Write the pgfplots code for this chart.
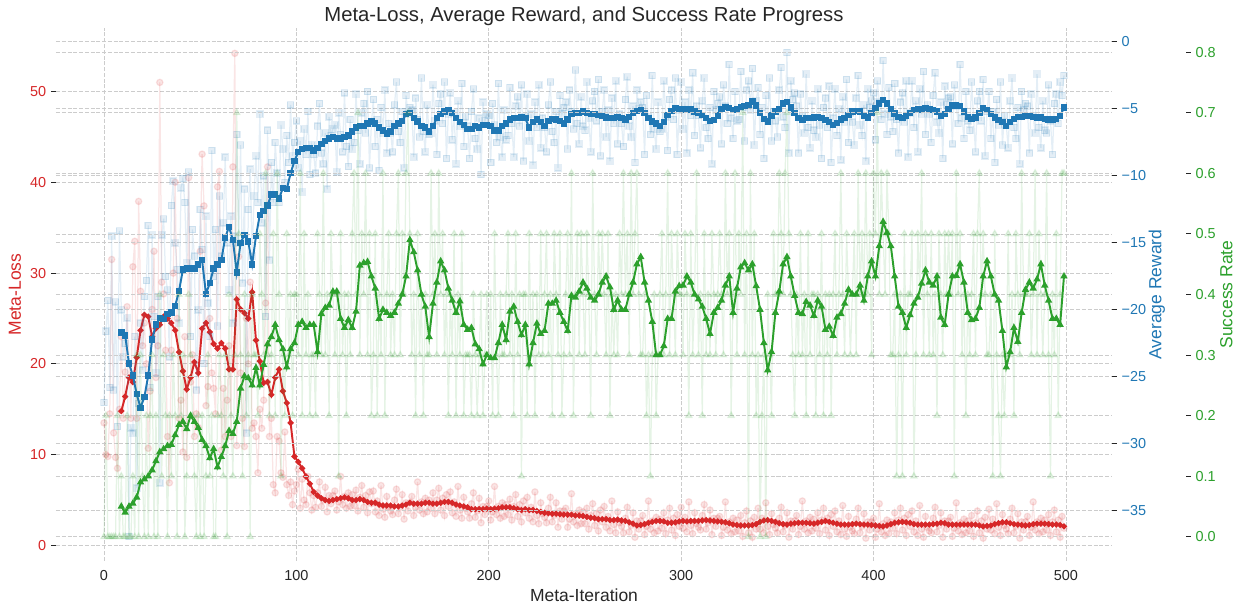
\documentclass[border=0pt]{standalone}
\usepackage{fontspec}
\setmainfont{Liberation Sans}
\usepackage{pgfplots}
\usepackage{pgfplotstable}
\pgfplotsset{compat=1.18}
\definecolor{cred}{HTML}{D62728}
\definecolor{cblue}{HTML}{1F77B4}
\definecolor{cgreen}{HTML}{2CA02C}
\definecolor{ctext}{HTML}{262626}
\definecolor{cgrid}{HTML}{CCCCCC}

% raw values per iteration: i, meta-loss, average reward, success rate
\pgfplotstableread[row sep=\\]{
i L R S\\
0 13.5 -26.9 0\\ 1 10.0 -21.6 0.2\\ 2 9.8 -19.3 0\\ 3 14.5 -25.8 0\\ 4 31.5 -14.5 0\\ 5 12.4 -26.0 0\\ 6 9.7 -19.4 0\\ 7 8.5 -28.7 0.2\\ 8 15.0 -14.1 0\\ 9 23.0 -20.0 0.1\\
10 14.0 -23.5 0\\ 11 19.1 -22.5 0\\ 12 26.3 -20.6 0.2\\ 13 20.0 -36.9 0\\ 14 14.0 -28.8 0\\ 15 30.7 -29.2 0.1\\ 16 33.5 -22.0 0\\ 17 14.0 -33.3 0.3\\ 18 37.9 -27.0 0\\ 19 28.0 -21.0 0.3\\
20 22.0 -24.5 0.1\\ 21 24.5 -19.0 0\\ 22 20.0 -17.8 0.2\\ 23 10.7 -13.7 0\\ 24 17.0 -25.8 0.2\\ 25 26.0 -14.4 0.3\\ 26 32.4 -20.5 0\\ 27 18.5 -24.7 0.2\\ 28 22.0 -19.0 0\\ 29 51.0 -32.9 0.4\\
30 29.0 -14.4 0.1\\ 31 27.7 -13.2 0.3\\ 32 21.5 -17.5 0.2\\ 33 12.0 -18.5 0\\ 34 6.9 -23.5 0.2\\ 35 21.5 -12.2 0.1\\ 36 30.0 -10.4 0.3\\ 37 40.0 -15.0 0.2\\ 38 25.0 -17.0 0\\ 39 14.0 -21.0 0.4\\
40 16.0 -10.9 0.2\\ 41 10.3 -10.2 0.3\\ 42 23.0 -12.0 0\\ 43 9.7 -16.5 0.1\\ 44 40.5 -9.7 0.4\\ 45 18.0 -22.0 0.3\\ 46 21.0 -14.0 0.2\\ 47 12.0 -16.0 0.1\\ 48 14.5 -26.0 0\\ 49 13.0 -20.0 0.2\\
50 32.4 -12.5 0\\ 51 43.1 -15.5 0.2\\ 52 37.4 -24.0 0\\ 53 15.4 -13.0 0.1\\ 54 17.5 -19.5 0.3\\ 55 25.0 -22.0 0.1\\ 56 19.0 -8.1 0.2\\ 57 17.3 -17.5 0\\ 58 14.5 -14.0 0\\ 59 39.5 -21.2 0.2\\
60 41.2 -11.5 0.3\\ 61 10.5 -16.0 0.2\\ 62 17.3 -13.5 0.1\\ 63 12.0 -8.6 0.3\\ 64 16.0 -15.0 0\\ 65 22.0 -18.5 0.4\\ 66 12.0 -13.0 0.2\\ 67 41.7 -21.0 0.1\\ 68 54.2 -14.5 0.3\\ 69 11.0 -6.9 0.7\\
70 31.8 -15.0 0.5\\ 71 19.0 -7.7 0.3\\ 72 14.0 -18.0 0.1\\ 73 10.9 -11.0 0.4\\ 74 25.0 -29.2 0.2\\ 75 20.0 -12.5 0.3\\ 76 29.0 -9.5 0\\ 77 12.9 -16.0 0.4\\ 78 13.5 -11.5 0.3\\ 79 12.0 -8.5 0.3\\
80 8.0 -12.0 0.2\\ 81 15.0 -5.4 0.5\\ 82 12.9 -13.5 0.4\\ 83 16.0 -10.0 0.3\\ 84 26.7 -20.5 0.6\\ 85 41.7 -6.6 0.3\\ 86 12.0 -16.3 0.2\\ 87 14.0 -9.0 0.3\\ 88 6.7 -12.0 0.5\\ 89 5.8 -7.5 0.2\\
90 12.0 -9.8 0.6\\ 91 11.5 -12.0 0.4\\ 92 8.0 -6.2 0.1\\ 93 7.5 -8.0 0.3\\ 94 12.5 -10.5 0.2\\ 95 6.7 -7.0 0.5\\ 96 5.5 -9.0 0.3\\ 97 7.0 -4.7 0.4\\ 98 4.5 -8.5 0.2\\ 99 6.0 -7.5 0.4\\
100 6.7 -5.9 0.4\\ 101 8.4 -9.4 0.3\\ 102 4.1 -7.4 0.6\\ 103 7.3 -11.2 0.2\\ 104 5.0 -6.5 0.5\\ 105 4.5 -8.4 0.3\\ 106 7.6 -5.2 0.4\\ 107 5.8 -9.9 0.2\\ 108 3.9 -7.7 0.3\\ 109 5.5 -8.4 0.3\\
110 4.2 -9.8 0.2\\ 111 5.8 -6.3 0.5\\ 112 7.0 -4.6 0.4\\ 113 4.3 -8.3 0.3\\ 114 5.0 -9.1 0.6\\ 115 6.4 -6.8 0.3\\ 116 3.7 -11.0 0.4\\ 117 5.5 -5.6 0.2\\ 118 4.6 -7.0 0.5\\ 119 5.5 -6.5 0.4\\
120 6.0 -6.2 0.3\\ 121 3.9 -9.7 0.4\\ 122 4.8 -5.3 0.1\\ 123 7.6 -6.9 0.5\\ 124 4.5 -8.2 0.3\\ 125 5.4 -3.8 0.4\\ 126 4.1 -7.8 0.2\\ 127 5.8 -9.3 0.4\\ 128 4.3 -5.8 0.3\\ 129 5.6 -8.0 0.5\\
130 4.4 -7.5 0.6\\ 131 6.1 -3.9 0.4\\ 132 3.8 -6.6 0.7\\ 133 5.3 -9.1 0.3\\ 134 6.6 -5.3 0.5\\ 135 4.2 -4.6 0.4\\ 136 5.5 -6.8 0.6\\ 137 3.6 -3.7 0.3\\ 138 5.9 -9.4 0.5\\ 139 4.6 -6.1 0.2\\
140 6.0 -4.3 0.3\\ 141 3.7 -7.8 0.5\\ 142 4.9 -5.8 0.2\\ 143 3.3 -9.6 0.4\\ 144 6.6 -4.9 0.3\\ 145 4.0 -6.8 0.6\\ 146 3.1 -3.6 0.2\\ 147 5.4 -8.3 0.4\\ 148 4.2 -6.1 0.5\\ 149 3.8 -6.8 0.3\\
150 3.4 -8.2 0.4\\ 151 5.0 -4.7 0.3\\ 152 6.2 -3.0 0.5\\ 153 3.5 -6.7 0.6\\ 154 4.2 -7.5 0.3\\ 155 5.6 -5.2 0.5\\ 156 2.9 -9.4 0.4\\ 157 4.7 -4.0 0.6\\ 158 3.8 -5.4 0.7\\ 159 4.7 -4.9 0.5\\
160 5.4 -5.1 0.3\\ 161 3.3 -8.6 0.4\\ 162 4.2 -4.2 0.2\\ 163 7.0 -5.8 0.5\\ 164 3.9 -7.1 0.3\\ 165 4.8 -2.7 0.4\\ 166 3.5 -6.7 0.2\\ 167 5.2 -8.2 0.4\\ 168 3.7 -4.7 0.3\\ 169 5.0 -6.9 0.3\\
170 4.1 -6.8 0.6\\ 171 5.8 -3.2 0.4\\ 172 3.5 -5.9 0.5\\ 173 5.0 -8.4 0.3\\ 174 6.3 -4.6 0.6\\ 175 3.9 -3.9 0.4\\ 176 5.2 -6.1 0.5\\ 177 3.3 -3.0 0.3\\ 178 5.6 -8.7 0.4\\ 179 4.3 -5.4 0.2\\
180 5.9 -3.8 0.4\\ 181 3.6 -7.3 0.3\\ 182 4.8 -5.3 0.5\\ 183 3.2 -9.1 0.2\\ 184 6.5 -4.4 0.4\\ 185 3.9 -6.3 0.3\\ 186 3.0 -3.1 0.5\\ 187 5.3 -7.8 0.2\\ 188 4.1 -5.6 0.3\\ 189 3.7 -6.3 0.3\\
190 3.0 -8.7 0.3\\ 191 4.6 -5.2 0.2\\ 192 5.8 -3.5 0.4\\ 193 3.1 -7.2 0.3\\ 194 3.8 -8.0 0.2\\ 195 5.2 -5.7 0.3\\ 196 2.5 -9.9 0.4\\ 197 4.3 -4.5 0.2\\ 198 3.4 -5.9 0.3\\ 199 4.3 -5.4 0.4\\
200 4.9 -5.5 0.3\\ 201 2.8 -9.0 0.4\\ 202 3.7 -4.6 0.2\\ 203 6.5 -6.2 0.5\\ 204 3.4 -7.5 0.3\\ 205 4.3 -3.1 0.2\\ 206 3.0 -7.1 0.4\\ 207 4.7 -8.6 0.3\\ 208 3.2 -5.1 0.3\\ 209 4.5 -7.3 0.4\\
210 3.4 -7.0 0.5\\ 211 5.1 -3.4 0.3\\ 212 2.8 -6.1 0.4\\ 213 4.3 -8.6 0.2\\ 214 5.6 -4.8 0.5\\ 215 3.2 -4.1 0.3\\ 216 4.5 -6.3 0.4\\ 217 2.6 -3.2 0.1\\ 218 4.9 -8.9 0.4\\ 219 3.6 -5.6 0.4\\
220 5.3 -3.9 0.2\\ 221 3.0 -7.4 0.5\\ 222 4.2 -5.4 0.3\\ 223 2.6 -9.2 0.4\\ 224 5.9 -4.5 0.2\\ 225 3.3 -6.4 0.4\\ 226 2.4 -3.2 0.3\\ 227 4.7 -7.9 0.5\\ 228 3.5 -5.7 0.3\\ 229 3.1 -6.4 0.4\\
230 2.5 -8.2 0.5\\ 231 4.1 -4.7 0.3\\ 232 5.3 -3.0 0.4\\ 233 2.6 -6.7 0.2\\ 234 3.3 -7.5 0.5\\ 235 4.7 -5.2 0.4\\ 236 2.0 -9.4 0.3\\ 237 3.8 -4.0 0.5\\ 238 2.9 -5.4 0.2\\ 239 3.8 -4.9 0.3\\
240 4.1 -4.5 0.4\\ 241 2.0 -8.0 0.5\\ 242 2.9 -3.6 0.3\\ 243 5.7 -5.2 0.6\\ 244 2.6 -6.5 0.2\\ 245 3.5 -2.1 0.4\\ 246 2.2 -6.1 0.5\\ 247 3.9 -7.6 0.3\\ 248 2.4 -4.1 0.5\\ 249 3.7 -6.3 0.4\\
250 2.4 -6.6 0.3\\ 251 4.1 -3.0 0.5\\ 252 1.8 -5.7 0.4\\ 253 3.3 -8.2 0.2\\ 254 4.6 -4.4 0.6\\ 255 2.2 -3.7 0.4\\ 256 3.5 -5.9 0.3\\ 257 1.6 -2.8 0.5\\ 258 3.9 -8.5 0.4\\ 259 2.6 -5.2 0.5\\
260 4.3 -3.6 0.4\\ 261 2.0 -7.1 0.3\\ 262 3.2 -5.1 0.5\\ 263 1.6 -8.9 0.2\\ 264 4.9 -4.2 0.4\\ 265 2.3 -6.1 0.3\\ 266 1.4 -2.9 0.4\\ 267 3.7 -7.6 0.3\\ 268 2.5 -5.4 0.5\\ 269 2.1 -6.1 0.4\\
270 1.4 -7.8 0.6\\ 271 3.0 -4.3 0.4\\ 272 4.2 -2.6 0.5\\ 273 1.5 -6.3 0.3\\ 274 2.2 -7.1 0.6\\ 275 3.6 -4.8 0.4\\ 276 0.9 -9.0 0.5\\ 277 2.7 -3.6 0.6\\ 278 1.8 -5.0 0.4\\ 279 2.7 -4.5 0.3\\
280 3.3 -4.9 0.3\\ 281 1.2 -8.4 0.4\\ 282 2.1 -4.0 0.2\\ 283 4.9 -5.6 0.3\\ 284 1.8 -6.9 0.1\\ 285 2.7 -2.5 0.3\\ 286 1.4 -6.5 0.4\\ 287 3.1 -8.0 0.2\\ 288 1.6 -4.5 0.3\\ 289 2.9 -6.7 0.4\\
290 1.9 -6.5 0.5\\ 291 3.6 -2.9 0.3\\ 292 1.3 -5.6 0.4\\ 293 2.8 -8.1 0.6\\ 294 4.1 -4.3 0.3\\ 295 1.7 -3.6 0.5\\ 296 3.0 -5.8 0.4\\ 297 1.1 -2.7 0.3\\ 298 3.4 -8.4 0.5\\ 299 2.1 -5.1 0.4\\
300 4.2 -3.0 0.4\\ 301 1.9 -6.5 0.3\\ 302 3.1 -4.5 0.5\\ 303 1.5 -8.3 0.4\\ 304 4.8 -3.6 0.2\\ 305 2.2 -5.5 0.5\\ 306 1.3 -2.3 0.3\\ 307 3.6 -7.0 0.4\\ 308 2.4 -4.8 0.6\\ 309 2.0 -5.5 0.3\\
310 1.7 -7.9 0.4\\ 311 3.3 -4.4 0.2\\ 312 4.5 -2.7 0.5\\ 313 1.8 -6.4 0.3\\ 314 2.5 -7.2 0.4\\ 315 3.9 -4.9 0.3\\ 316 1.2 -9.1 0.5\\ 317 3.0 -3.7 0.4\\ 318 2.1 -5.1 0.3\\ 319 3.0 -4.6 0.4\\
320 3.2 -4.1 0.5\\ 321 1.1 -7.6 0.4\\ 322 2.0 -3.2 0.3\\ 323 4.8 -4.8 0.6\\ 324 1.7 -6.1 0.4\\ 325 2.6 -1.7 0.5\\ 326 1.3 -5.7 0.2\\ 327 3.0 -7.2 0.4\\ 328 1.5 -3.7 0.6\\ 329 2.8 -5.9 0.3\\
330 1.6 -5.8 0.5\\ 331 3.3 -2.2 0.4\\ 332 1.0 -4.9 0.7\\ 333 2.5 -7.4 0.3\\ 334 3.8 -3.6 0.5\\ 335 1.4 -2.9 0\\ 336 2.7 -5.1 0.6\\ 337 0.9 -2.0 0.3\\ 338 3.1 -7.7 0.5\\ 339 1.8 -4.4 0.2\\
340 4.1 -3.4 0.3\\ 341 1.8 -6.9 0\\ 342 3.0 -4.9 0.2\\ 343 1.4 -8.7 0.3\\ 344 4.7 -4.0 0\\ 345 2.1 -5.9 0.4\\ 346 1.2 -2.7 0.3\\ 347 3.5 -7.4 0.2\\ 348 2.3 -5.2 0.5\\ 349 1.9 -5.9 0.4\\
350 1.4 -7.1 0.4\\ 351 3.0 -3.6 0.6\\ 352 4.2 -1.9 0.5\\ 353 1.5 -5.6 0.4\\ 354 2.2 -6.4 0.6\\ 355 3.6 -0.8 0.7\\ 356 0.9 -8.3 0.5\\ 357 2.7 -2.9 0.4\\ 358 1.8 -4.3 0.3\\ 359 2.7 -3.8 0.2\\
360 3.3 -4.8 0.4\\ 361 1.2 -8.3 0.3\\ 362 2.1 -3.9 0.5\\ 363 4.9 -5.5 0.3\\ 364 1.8 -6.8 0.4\\ 365 2.7 -2.4 0.2\\ 366 1.4 -6.4 0.5\\ 367 3.1 -7.9 0.3\\ 368 1.6 -4.4 0.4\\ 369 2.9 -6.6 0.4\\
370 1.9 -7.1 0.2\\ 371 3.6 -3.5 0.4\\ 372 1.3 -6.2 0.3\\ 373 2.8 -8.7 0.5\\ 374 4.1 -4.9 0.2\\ 375 1.7 -4.2 0.4\\ 376 3.0 -6.4 0.3\\ 377 1.1 -3.3 0.4\\ 378 3.4 -9.0 0.2\\ 379 2.1 -5.7 0.4\\
380 3.8 -3.5 0.5\\ 381 1.5 -7.0 0.3\\ 382 2.7 -5.0 0.4\\ 383 1.2 -8.8 0.6\\ 384 4.4 -4.1 0.4\\ 385 1.8 -6.0 0.3\\ 386 1.0 -2.8 0.5\\ 387 3.2 -7.5 0.4\\ 388 2.0 -5.3 0.3\\ 389 1.6 -6.0 0.4\\
390 1.3 -7.7 0.5\\ 391 2.9 -4.2 0.3\\ 392 4.1 -2.5 0.6\\ 393 1.4 -6.2 0.4\\ 394 2.1 -7.0 0.5\\ 395 3.5 -4.7 0.4\\ 396 0.8 -8.9 0.6\\ 397 2.6 -3.5 0.4\\ 398 1.7 -4.9 0.5\\ 399 2.6 -4.4 0.3\\
400 3.0 -3.8 0.6\\ 401 0.9 -7.3 0.5\\ 402 1.8 -2.9 0.7\\ 403 4.6 -4.5 0.4\\ 404 1.5 -5.8 0.6\\ 405 2.4 -1.4 0.5\\ 406 1.1 -5.4 0.4\\ 407 2.8 -6.9 0.6\\ 408 1.3 -3.4 0.5\\ 409 2.6 -5.6 0.3\\
410 1.9 -6.7 0.3\\ 411 3.6 -3.1 0.4\\ 412 1.3 -5.8 0.1\\ 413 2.8 -8.3 0.3\\ 414 4.1 -4.5 0.4\\ 415 1.7 -3.8 0.1\\ 416 3.0 -6.0 0.5\\ 417 1.1 -2.9 0.3\\ 418 3.4 -8.6 0.4\\ 419 2.1 -5.3 0.4\\
420 3.8 -2.9 0.5\\ 421 1.5 -6.4 0.1\\ 422 2.7 -4.4 0.3\\ 423 1.1 -8.2 0.5\\ 424 4.4 -3.5 0.4\\ 425 1.8 -5.4 0.6\\ 426 0.9 -2.2 0.3\\ 427 3.2 -6.9 0.5\\ 428 2.0 -4.7 0.4\\ 429 1.6 -5.4 0.3\\
430 1.4 -7.5 0.5\\ 431 3.0 -4.0 0.3\\ 432 4.2 -2.3 0.4\\ 433 1.5 -6.0 0.2\\ 434 2.2 -6.8 0.5\\ 435 3.6 -4.5 0.4\\ 436 0.9 -8.7 0.3\\ 437 2.7 -3.3 0.5\\ 438 1.8 -4.7 0.4\\ 439 2.7 -4.2 0.5\\
440 3.1 -4.1 0.4\\ 441 1.0 -7.6 0.5\\ 442 1.9 -3.2 0.1\\ 443 4.7 -4.8 0.6\\ 444 1.6 -6.1 0.4\\ 445 2.5 -1.7 0.5\\ 446 1.2 -5.7 0.3\\ 447 2.9 -7.2 0.4\\ 448 1.4 -3.7 0.2\\ 449 2.7 -5.9 0.4\\
450 1.6 -6.6 0.3\\ 451 3.3 -3.0 0.4\\ 452 1.0 -5.7 0.5\\ 453 2.5 -8.2 0.3\\ 454 3.8 -4.4 0.5\\ 455 1.4 -3.7 0.6\\ 456 2.7 -5.9 0.4\\ 457 0.8 -2.8 0.5\\ 458 3.1 -8.5 0.4\\ 459 1.8 -5.2 0.3\\
460 4.0 -3.7 0.3\\ 461 1.7 -7.2 0.4\\ 462 2.9 -5.2 0.1\\ 463 1.3 -9.0 0.5\\ 464 4.6 -4.3 0.3\\ 465 2.0 -6.2 0.2\\ 466 1.1 -3.0 0.1\\ 467 3.4 -7.7 0.3\\ 468 2.2 -5.5 0.2\\ 469 1.8 -6.2 0.3\\
470 1.3 -7.9 0.5\\ 471 2.9 -4.4 0.3\\ 472 4.1 -2.7 0.4\\ 473 1.4 -6.4 0.2\\ 474 2.1 -7.2 0.5\\ 475 3.5 -4.9 0.4\\ 476 0.8 -9.1 0.3\\ 477 2.6 -3.7 0.6\\ 478 1.7 -5.1 0.4\\ 479 2.6 -4.6 0.4\\
480 3.2 -4.8 0.4\\ 481 1.1 -8.3 0.5\\ 482 2.0 -3.9 0.3\\ 483 4.8 -5.5 0.4\\ 484 1.7 -6.8 0.6\\ 485 2.6 -2.4 0.3\\ 486 1.3 -6.4 0.5\\ 487 3.0 -7.9 0.4\\ 488 1.5 -4.4 0.3\\ 489 2.8 -6.6 0.4\\
490 1.7 -6.8 0.6\\ 491 3.4 -3.2 0.3\\ 492 1.1 -5.9 0.1\\ 493 2.6 -8.4 0.4\\ 494 3.9 -4.6 0.3\\ 495 1.5 -3.9 0.5\\ 496 2.8 -6.1 0.2\\ 497 0.9 -3.0 0.4\\ 498 3.2 -4.0 0.6\\ 499 1.9 -2.5 0.6\\
}\rawdata

% moving averages (window 10)
\pgfplotstableread[row sep=\\]{
i L R S\\
9 14.8 -21.7 0.05\\ 11 16.4 -21.9 0.04\\ 13 18.5 -24.0 0.05\\ 15 18.0 -24.9 0.055\\ 17 20.7 -26.3 0.065\\ 19 23.7 -27.3 0.09\\ 21 25.4 -26.5 0.095\\ 23 25.2 -24.9 0.10\\ 25 23.0 -22.2 0.11\\ 27 23.9 -21.1 0.125\\
29 24.3 -20.6 0.14\\ 31 25.2 -20.7 0.145\\ 33 25.0 -20.3 0.15\\ 35 24.5 -20.2 0.152\\ 37 23.7 -19.7 0.168\\ 39 21.3 -18.6 0.185\\ 41 19.2 -17.0 0.19\\ 43 17.2 -16.9 0.178\\ 45 18.5 -16.9 0.20\\ 47 20.2 -16.9 0.19\\
49 19.0 -16.6 0.18\\ 51 23.9 -16.3 0.16\\ 53 24.5 -18.8 0.15\\ 55 23.5 -18.0 0.13\\ 57 22.2 -16.9 0.145\\ 59 21.7 -16.6 0.115\\ 61 22.3 -16.3 0.132\\ 63 21.7 -14.6 0.15\\ 65 19.4 -13.8 0.175\\ 67 19.4 -14.8 0.17\\
69 27.1 -17.2 0.19\\ 71 26.0 -15.0 0.245\\ 73 25.6 -14.4 0.265\\ 75 25.0 -14.9 0.262\\ 77 27.9 -16.6 0.25\\ 79 22.6 -14.5 0.279\\ 81 20.3 -12.9 0.25\\ 83 17.9 -12.6 0.284\\ 85 18.0 -12.2 0.318\\ 87 16.6 -11.4 0.33\\
89 18.5 -11.4 0.35\\ 91 19.4 -11.7 0.325\\ 93 17.0 -10.9 0.31\\ 95 15.7 -11.0 0.28\\ 97 13.5 -9.8 0.31\\ 99 9.8 -8.9 0.32\\ 101 9.2 -8.2 0.35\\ 103 8.5 -8.0 0.355\\ 105 7.6 -7.9 0.345\\ 107 6.8 -7.9 0.35\\
109 5.9 -8.1 0.35\\ 111 5.5 -7.9 0.305\\ 113 5.2 -7.6 0.368\\ 115 5.0 -7.4 0.378\\ 117 4.9 -7.2 0.382\\ 119 5.0 -7.1 0.405\\ 121 5.1 -7.2 0.405\\ 123 5.2 -7.2 0.36\\ 125 5.3 -7.1 0.345\\ 127 5.2 -7.0 0.358\\
129 5.0 -6.7 0.345\\ 131 5.0 -6.4 0.372\\ 133 5.1 -6.3 0.448\\ 135 5.0 -6.3 0.452\\ 137 4.8 -6.1 0.454\\ 139 4.7 -5.95 0.43\\ 141 4.7 -6.1 0.41\\ 143 4.5 -6.4 0.36\\ 145 4.4 -6.6 0.375\\ 147 4.4 -6.85 0.37\\
149 4.4 -6.7 0.365\\ 151 4.3 -6.3 0.37\\ 153 4.3 -6.1 0.385\\ 155 4.4 -5.9 0.40\\ 157 4.5 -5.4 0.43\\ 159 4.7 -5.3 0.49\\ 161 4.6 -5.7 0.47\\ 163 4.6 -5.95 0.44\\ 165 4.6 -6.3 0.40\\ 167 4.7 -6.4 0.38\\
169 4.7 -6.7 0.33\\ 171 4.6 -6.3 0.385\\ 173 4.6 -5.7 0.42\\ 175 4.7 -5.4 0.455\\ 177 4.8 -5.2 0.44\\ 179 4.8 -5.1 0.41\\ 181 4.7 -5.3 0.39\\ 183 4.5 -5.7 0.37\\ 185 4.4 -6.0 0.389\\ 187 4.3 -6.2 0.35\\
189 4.2 -6.5 0.342\\ 191 4.0 -6.5 0.345\\ 193 4.0 -6.3 0.318\\ 195 4.0 -6.4 0.31\\ 197 4.0 -6.2 0.285\\ 199 4.05 -6.2 0.30\\ 201 4.0 -6.3 0.295\\ 203 4.05 -6.6 0.295\\ 205 4.1 -6.6 0.32\\ 207 4.2 -6.3 0.35\\
209 4.2 -6.1 0.325\\ 211 4.2 -5.8 0.372\\ 213 4.1 -5.7 0.38\\ 215 4.0 -5.7 0.355\\ 217 3.9 -5.65 0.333\\ 219 4.0 -5.7 0.35\\ 221 3.9 -6.4 0.285\\ 223 3.9 -6.0 0.32\\ 225 3.8 -5.8 0.352\\ 227 3.7 -6.0 0.335\\
229 3.6 -6.3 0.34\\ 231 3.55 -5.9 0.385\\ 233 3.5 -5.75 0.385\\ 235 3.5 -5.8 0.39\\ 237 3.45 -5.9 0.37\\ 239 3.4 -6.1 0.355\\ 241 3.4 -5.8 0.34\\ 243 3.4 -5.4 0.398\\ 245 3.3 -5.3 0.395\\ 247 3.3 -5.3 0.405\\
249 3.25 -5.2 0.42\\ 251 3.15 -5.3 0.41\\ 253 3.05 -5.4 0.395\\ 255 3.0 -5.4 0.39\\ 257 2.9 -5.45 0.40\\ 259 2.9 -5.55 0.42\\ 261 2.9 -5.65 0.43\\ 263 2.8 -5.7 0.412\\ 265 2.8 -5.7 0.375\\ 267 2.85 -5.6 0.39\\
269 2.75 -5.7 0.375\\ 271 2.7 -5.8 0.375\\ 273 2.55 -5.6 0.40\\ 275 2.4 -5.3 0.42\\ 277 2.2 -5.15 0.45\\ 279 2.25 -5.1 0.462\\ 281 2.35 -5.3 0.42\\ 283 2.5 -5.7 0.39\\ 285 2.6 -5.95 0.355\\ 287 2.7 -6.1 0.30\\
289 2.7 -6.3 0.30\\ 291 2.65 -6.0 0.315\\ 293 2.5 -5.45 0.36\\ 295 2.5 -5.15 0.36\\ 297 2.55 -4.95 0.405\\ 299 2.65 -5.0 0.414\\ 301 2.7 -5.05 0.415\\ 303 2.65 -5.0 0.43\\ 305 2.7 -5.05 0.42\\ 307 2.7 -5.2 0.40\\
309 2.7 -5.3 0.392\\ 311 2.75 -5.45 0.38\\ 313 2.8 -5.7 0.36\\ 315 2.75 -5.9 0.335\\ 317 2.7 -5.85 0.37\\ 319 2.65 -5.5 0.378\\ 321 2.6 -5.0 0.39\\ 323 2.55 -4.85 0.415\\ 325 2.45 -4.95 0.43\\ 327 2.3 -5.1 0.37\\
329 2.25 -5.0 0.41\\ 331 2.2 -4.85 0.445\\ 333 2.2 -4.8 0.452\\ 335 2.2 -4.7 0.44\\ 337 2.25 -4.45 0.45\\ 339 2.35 -4.75 0.414\\ 341 2.6 -5.3 0.375\\ 343 2.75 -5.75 0.32\\ 345 2.8 -5.95 0.275\\ 347 2.7 -5.5 0.305\\
349 2.6 -5.2 0.37\\ 351 2.45 -5.0 0.405\\ 353 2.35 -4.6 0.45\\ 355 2.3 -4.5 0.462\\ 357 2.4 -4.9 0.43\\ 359 2.45 -5.3 0.398\\ 361 2.5 -5.7 0.37\\ 363 2.5 -5.85 0.368\\ 365 2.5 -5.7 0.388\\ 367 2.45 -5.7 0.382\\
369 2.4 -5.65 0.365\\ 371 2.5 -5.6 0.39\\ 373 2.6 -5.7 0.38\\ 375 2.7 -5.85 0.342\\ 377 2.6 -6.0 0.347\\ 379 2.5 -6.2 0.332\\ 381 2.4 -6.05 0.362\\ 383 2.3 -5.8 0.368\\ 385 2.3 -5.7 0.385\\ 387 2.3 -5.45 0.408\\
389 2.35 -5.2 0.40\\ 391 2.4 -5.15 0.40\\ 393 2.35 -5.2 0.415\\ 395 2.3 -5.5 0.39\\ 397 2.3 -5.65 0.43\\ 399 2.25 -5.3 0.455\\ 401 2.2 -4.95 0.43\\ 403 2.15 -4.6 0.48\\ 405 2.1 -4.35 0.52\\ 407 2.2 -4.6 0.502\\
409 2.35 -5.0 0.48\\ 411 2.5 -5.35 0.43\\ 413 2.55 -5.6 0.38\\ 415 2.6 -5.7 0.37\\ 417 2.55 -5.55 0.345\\ 419 2.5 -5.3 0.366\\ 421 2.35 -5.1 0.385\\ 423 2.3 -5.05 0.395\\ 425 2.3 -5.0 0.418\\ 427 2.3 -4.95 0.44\\
429 2.3 -5.0 0.42\\ 431 2.35 -5.1 0.415\\ 433 2.4 -5.2 0.43\\ 435 2.5 -5.55 0.362\\ 437 2.45 -5.4 0.35\\ 439 2.3 -5.0 0.40\\ 441 2.3 -4.75 0.43\\ 443 2.3 -4.75 0.431\\ 445 2.3 -4.8 0.45\\ 447 2.3 -5.2 0.42\\
449 2.3 -5.6 0.37\\ 451 2.3 -5.75 0.358\\ 453 2.3 -5.65 0.36\\ 455 2.2 -5.3 0.378\\ 457 2.1 -4.95 0.43\\ 459 2.15 -5.1 0.455\\ 461 2.2 -5.4 0.43\\ 463 2.35 -5.65 0.40\\ 465 2.45 -5.85 0.39\\ 467 2.55 -6.0 0.34\\
469 2.55 -6.3 0.28\\ 471 2.45 -6.0 0.305\\ 473 2.35 -5.75 0.345\\ 475 2.3 -5.6 0.322\\ 477 2.25 -5.6 0.37\\ 479 2.2 -5.55 0.408\\ 481 2.25 -5.55 0.42\\ 483 2.35 -5.6 0.41\\ 485 2.4 -5.65 0.425\\ 487 2.4 -5.65 0.45\\
489 2.4 -5.75 0.415\\ 491 2.35 -5.8 0.39\\ 493 2.3 -5.8 0.36\\ 495 2.3 -5.75 0.36\\ 497 2.25 -5.55 0.35\\ 499 2.1 -4.9 0.43\\
}\smoothdata

\pgfplotsset{
  base/.style={
    scale only axis, width=760.3pt, height=383.8pt,
    xmin=-24.95, xmax=523.95,
    axis line style={draw=none},
    grid style={draw=cgrid, dash pattern=on 2.9pt off 1.25pt, line width=0.55pt},
    major tick length=3.5pt,
    tick align=outside,
    tick style={draw=ctext, line width=0.6pt},
    tick label style={font=\fontsize{10.4}{12}\selectfont},
    /pgf/number format/assume math mode=true,
  },
  rawstyle/.style={line width=0.9pt, opacity=0.12, mark size=2.3pt},
}

\begin{document}
\begin{tikzpicture}
% ---------- Meta-Loss (left axis) ----------
\begin{axis}[base,
  ymin=-1.71, ymax=57.0,
  xtick={0,100,200,300,400,500},
  ytick={0,10,20,30,40,50},
  xmajorgrids, ymajorgrids,
  xtick pos=left, ytick pos=left,
  x tick style={draw=none},
  x tick label style={text=ctext},
  y tick label style={text=cred},
  title={Meta-Loss, Average Reward, and Success Rate Progress},
  every axis title/.style={at={(axis description cs:0.5,1)}, anchor=base, yshift=4.5pt,
     font=\fontsize{14.6}{17}\selectfont, text=ctext},
  xlabel={Meta-Iteration},
  every axis x label/.style={at={(axis description cs:0.5,0)}, anchor=base, yshift=-29.2pt,
     font=\fontsize{12.6}{15}\selectfont, text=ctext},
  ylabel={Meta-Loss},
  every axis y label/.style={at={(axis description cs:-0.0388,0.5)}, rotate=90, anchor=center,
     font=\fontsize{12.6}{15}\selectfont, text=cred},
]
\addplot[cred, rawstyle, mark=*, mark options={fill=cred}] table[x=i, y=L] \rawdata;
\addplot[cred, line width=1.4pt, mark=*, mark size=1.4pt, mark options={fill=cred}] table[x=i, y=L] \smoothdata;
\end{axis}

% ---------- Average Reward (right axis) ----------
\begin{axis}[base,
  ymin=-38.74, ymax=1.04,
  hide x axis,
  ytick={-35,-30,-25,-20,-15,-10,-5,0},
  yticklabels={−35,−30,−25,−20,−15,−10,−5,0},
  ymajorgrids, ytick pos=right,
  y tick label style={text=cblue},
  ylabel={Average Reward},
  every axis y label/.style={at={(axis description cs:1.0426,0.5)}, rotate=90, anchor=center,
     font=\fontsize{12.6}{15}\selectfont, text=cblue},
]
\addplot[cblue, rawstyle, mark=square*, mark options={fill=cblue}] table[x=i, y=R] \rawdata;
\addplot[cblue, line width=1.4pt, mark=square*, mark size=1.6pt, mark options={fill=cblue}] table[x=i, y=R] \smoothdata;
\end{axis}

% ---------- Success Rate (data + grid) ----------
\begin{axis}[base,
  ymin=-0.04, ymax=0.84,
  hide x axis,
  ytick={0,0.1,0.2,0.3,0.4,0.5,0.6,0.7,0.8},
  yticklabels={},
  ymajorgrids, ytick pos=right,
  y tick style={draw=none},
  ylabel={Success Rate},
  every axis y label/.style={at={(axis description cs:1.1082,0.5)}, rotate=90, anchor=center,
     font=\fontsize{12.6}{15}\selectfont, text=cgreen},
]
\addplot[cgreen, rawstyle, mark=triangle*, mark size=2.6pt, mark options={fill=cgreen}] table[x=i, y=S] \rawdata;
\addplot[cgreen, line width=1.4pt, mark=triangle*, mark size=1.7pt, mark options={fill=cgreen}] table[x=i, y=S] \smoothdata;
\end{axis}

% ---------- Success Rate (offset spine: ticks and labels) ----------
\begin{axis}[base, xshift=53.22pt,
  ymin=-0.04, ymax=0.84,
  hide x axis,
  ytick={0,0.1,0.2,0.3,0.4,0.5,0.6,0.7,0.8},
  yticklabels={0.0,0.1,0.2,0.3,0.4,0.5,0.6,0.7,0.8},
  ytick pos=right,
  y tick label style={text=cgreen},
]
\end{axis}

\pgfresetboundingbox
\useasboundingbox (-40.32pt,-31.68pt) rectangle (856.8pt,403.92pt);
\end{tikzpicture}
\end{document}
